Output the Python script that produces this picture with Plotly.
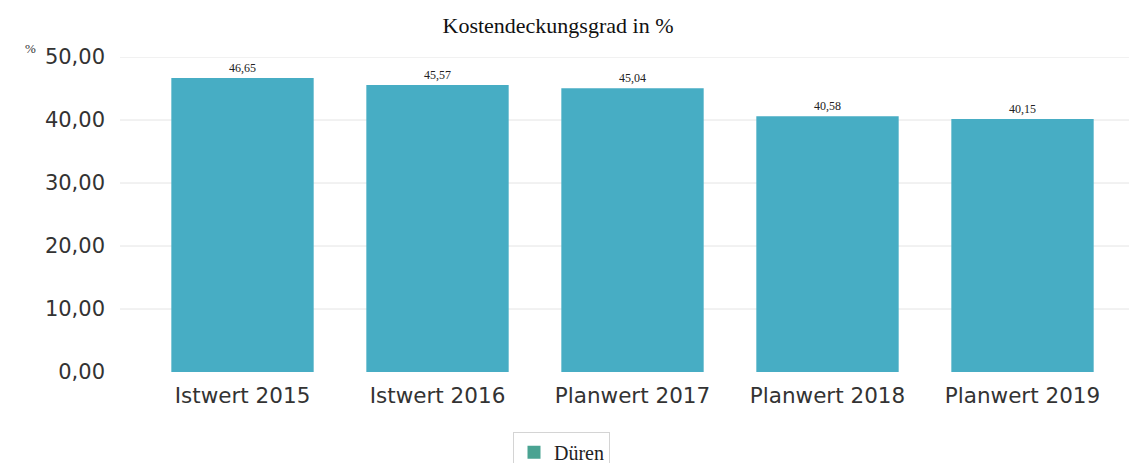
import plotly.graph_objects as go

categories = ["Istwert 2015", "Istwert 2016", "Planwert 2017", "Planwert 2018", "Planwert 2019"]
values = [46.65, 45.57, 45.04, 40.58, 40.15]
value_labels = ["46,65", "45,57", "45,04", "40,58", "40,15"]
series_name = "Düren"
tick_vals = [0, 10, 20, 30, 40, 50]
tick_text = ["0,00", "10,00", "20,00", "30,00", "40,00", "50,00"]

bar_color = "#47adc4"
legend_color = "#4aa392"
grid_color = "#e4e4e4"

# page body has an 8px default margin, so the figure is sized to fit the window
W, H = 1129, 455
L, R, T, B = 137, 17, 49, 91
pw = W - L - R
ph = H - T - B

fig = go.Figure()
fig.add_trace(go.Bar(
    x=categories, y=values, marker_color=bar_color, marker_line_width=0,
    text=value_labels, textposition="outside", cliponaxis=False,
    textfont=dict(family="Liberation Serif", size=12, color="#222"),
    showlegend=False, name=series_name,
))
fig.add_trace(go.Scatter(
    x=[None], y=[None], mode="markers", name=series_name,
    marker=dict(symbol="square", size=13, color=legend_color),
))

for tv in tick_vals[1:]:
    fig.add_shape(type="line", xref="paper", yref="y",
                  x0=(112 - L) / pw, x1=(W - L) / pw, y0=tv, y1=tv,
                  line=dict(color=grid_color, width=1), layer="below")

fig.update_layout(
    width=W, height=H,
    margin=dict(l=L, r=R, t=T, b=B, autoexpand=False),
    paper_bgcolor="white", plot_bgcolor="white",
    bargap=0.27,
    separators=",.",
    title=dict(text="Kostendeckungsgrad in %", x=550 / W, xanchor="center", y=1 - 17 / H, yanchor="middle",
               font=dict(family="Liberation Serif", size=22, color="#111")),
    legend=dict(orientation="h", x=(505 - L) / pw, xanchor="left", y=-0.19, yanchor="top",
                bordercolor="#d4d4d4", borderwidth=1, itemwidth=30,
                font=dict(family="Liberation Serif", size=20, color="#222")),
    xaxis=dict(tickfont=dict(family="DejaVu Sans", size=21.5, color="#333"), showgrid=False,
               ticks="", showline=False, automargin=False, ticklabelstandoff=8),
    yaxis=dict(range=[0, 50], tickvals=tick_vals, ticktext=tick_text,
               tickfont=dict(family="DejaVu Sans", size=21, color="#333"),
               showgrid=False, zeroline=False, automargin=False,
               ticks="", ticklen=0, ticklabelstandoff=39),
    annotations=[dict(text="%", x=(22 - L) / pw, y=(H - B - 40) / ph, xref="paper", yref="paper",
                      xanchor="center", yanchor="middle",
                      showarrow=False, font=dict(family="Liberation Serif", size=13, color="#333"))],
)

fig.write_html("out.html")
